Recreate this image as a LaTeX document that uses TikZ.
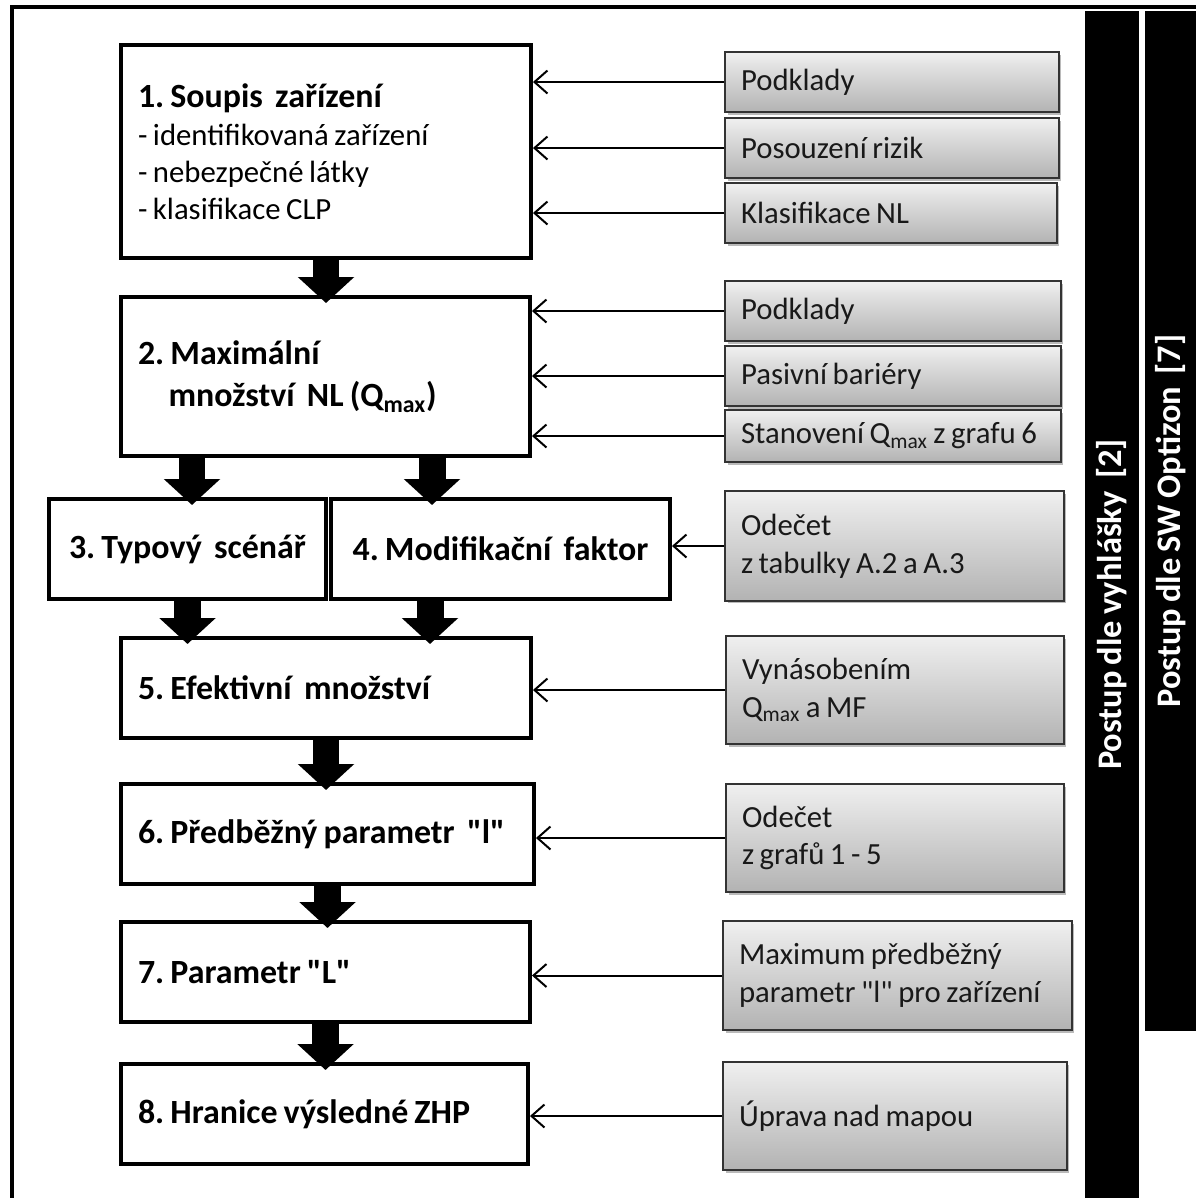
\documentclass[tikz,border=0pt]{standalone}
\usepackage{fontspec}
\setmainfont{Carlito}[WordSpace=0.8]
\usetikzlibrary{arrows.meta,shadows}
\frenchspacing

\begin{document}
\begin{tikzpicture}[x=0.02cm,y=-0.02cm,
    font=\fontsize{17.5}{21}\selectfont,
    stepbox/.style={draw,line width=0.08cm,fill=white,inner xsep=0.34cm,text width=7.52cm,
      align=flush left,font=\fontsize{19.3}{21}\selectfont\bfseries},
    inbox/.style={draw=black!80,line width=0.04cm,top color=black!6,bottom color=black!30,
      text=black!90,inner xsep=0.32cm,text width=6.04cm,minimum height=1.2cm,align=flush left,
      font=\fontsize{17.5}{21.5}\selectfont,
      drop shadow={shadow xshift=0.05cm,shadow yshift=-0.05cm,fill=black!45,opacity=0.6}},
    feed/.style={line width=0.04cm,-{Straight Barb[length=0.26cm,width=0.46cm]}},
    flow/.style={line width=0.54cm,-{Triangle[length=0.52cm,width=1.1cm]},shorten >=-0.16cm},
    bar/.style={fill=black,text=white,rotate=90,inner sep=0pt,
      font=\fontsize{19.6}{21}\selectfont\bfseries}]
  \useasboundingbox (0,0) rectangle (1196,1198);

  % Frame and side bars
  \draw[line width=0.09cm] (12,1198) -- (12,7) -- (1196,7);
  \node[bar,minimum width=23.74cm,minimum height=1.08cm] (bar1) at (1112,604.5) {Postup dle vyhlášky\ \ [2]};
  \node[bar,minimum width=20.4cm,minimum height=1.02cm] (bar2) at (1170.5,521) {Postup dle SW Optizon\ \ [7]};

  % Steps
  \node[stepbox,minimum height=4.26cm] (b1) at (326,151.5)
    {1. Soupis\ \ zařízení\\[1pt]\mdseries\fontsize{17.5}{21}\selectfont - identifikovaná zařízení\\- nebezpečné látky\\- klasifikace CLP};
  \node[stepbox,minimum height=3.18cm,text width=7.5cm] (b2) at (325.5,376.5)
    {2. Maximální\\[3pt]\hspace*{0.9em}množství\ \ NL (Q\textsubscript{max})};
  \node[stepbox,minimum height=2cm,text width=4.86cm,align=flush center] (b3) at (187.5,549) {3. Typový\ \ scénář};
  \node[stepbox,minimum height=2cm,text width=6.1cm,align=flush center] (b4) at (500.5,549) {4. Modifikační\ \ faktor};
  \node[stepbox,minimum height=2cm] (b5) at (326,688) {5. Efektivní\ \ množství};
  \node[stepbox,minimum height=2cm,text width=7.58cm] (b6) at (327.5,834) {6. Předběžný parametr\ \ \textquotedbl l\textquotedbl};
  \node[stepbox,minimum height=2cm,text width=7.5cm] (b7) at (325.5,972) {7. Parametr \textquotedbl L\textquotedbl};
  \node[stepbox,minimum height=2cm,text width=7.46cm] (b8) at (324.5,1114) {8. Hranice výsledné ZHP};

  % Inputs
  \node[inbox] (g1) at (892,82) {Podklady};
  \node[inbox] (g2) at (892,148) {Posouzení rizik};
  \node[inbox,text width=6cm] (g3) at (891,213) {Klasifikace NL};
  \node[inbox,text width=6.08cm] (g4) at (893,311) {Podklady};
  \node[inbox,text width=6.08cm] (g5) at (893,376) {Pasivní bariéry};
  \node[inbox,text width=6.08cm,minimum height=1.04cm] (g6) at (893,436) {\mbox{Stanovení Q\textsubscript{max} z grafu 6}};
  \node[inbox,text width=6.14cm,minimum height=2.2cm] (g7) at (894.5,546) {Odečet\\z tabulky A.2 a A.3};
  \node[inbox,text width=6.12cm,minimum height=2.16cm] (g8) at (895,690) {Vynásobením\\Q\textsubscript{max} a MF};
  \node[inbox,text width=6.12cm,minimum height=2.16cm] (g9) at (895,838) {Odečet\\z grafů 1 - 5};
  \node[inbox,text width=6.34cm,minimum height=2.18cm] (g10) at (897.5,975.5) {Maximum předběžný\\parametr \textquotedbl l\textquotedbl{} pro zařízení};
  \node[inbox,text width=6.24cm,minimum height=2.16cm] (g11) at (895,1116) {Úprava nad mapou};

  % Input arrows
  \foreach \g/\b in {g1/b1,g2/b1,g3/b1,g4/b2,g5/b2,g6/b2,g7/b4,g8/b5,g9/b6,g10/b7,g11/b8}
    \draw[feed] (\g.west) -- (\g.west -| \b.east);

  % Flow arrows
  \draw[flow] (b1.south) -- (b1.south |- b2.north);
  \draw[flow] (192,0 |- b2.south) -- (192,0 |- b3.north);
  \draw[flow] (432,0 |- b2.south) -- (432,0 |- b4.north);
  \draw[flow] (b3.south) -- (b3.south |- b5.north);
  \draw[flow] (430,0 |- b4.south) -- (430,0 |- b5.north);
  \draw[flow] (b5.south) -- (b5.south |- b6.north);
  \draw[flow] (b6.south) -- (b6.south |- b7.north);
  \draw[flow] (b7.south) -- (b7.south |- b8.north);
\end{tikzpicture}
\end{document}
